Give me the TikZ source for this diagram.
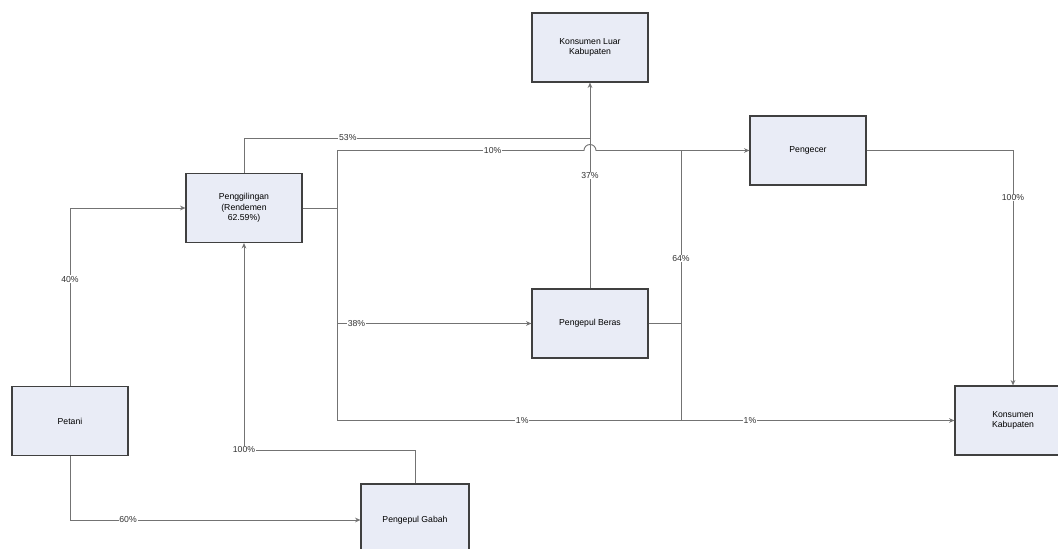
\documentclass[tikz,border=0pt]{standalone}
\usepackage{fontspec}
\setmainfont{Liberation Sans}
\usetikzlibrary{arrows.meta}
\definecolor{boxfill}{RGB}{233,236,246}
\begin{document}
\begin{tikzpicture}[x=0.75pt,y=-0.75pt,
  box/.style={draw=black!75,line width=0.9pt,fill=boxfill,minimum width=87pt,minimum height=51.75pt,inner sep=1pt,align=center,font=\fontsize{6.5}{8}\selectfont},
  conn/.style={draw=black!55,line width=0.7pt},
  arr/.style={conn,-{Stealth[length=4pt,width=3.5pt]}},
  lbl/.style={fill=white,inner sep=0.6pt,font=\fontsize{6.5}{8}\selectfont,text=black!80}]
\useasboundingbox (0,0) rectangle (1058,549);
% nodes
\node[box] (kl) at (590,47.5) {Konsumen Luar\\Kabupaten};
\node[box] (pg) at (244,208) {Penggilingan\\(Rendemen\\62.59\%)};
\node[box] (pt) at (70,421) {Petani};
\node[box,minimum width=81pt,minimum height=54pt] (ga) at (415,520) {Pengepul Gabah};
\node[box] (pb) at (590,323.5) {Pengepul Beras};
\node[box] (pc) at (808,150.5) {Pengecer};
\node[box] (kk) at (1013,420.5) {Konsumen\\Kabupaten};
% coordinates
\coordinate (ta) at (337,150.5);
\coordinate (tb) at (337,420.5);
\coordinate (tm) at (337,208);
\coordinate (ua) at (681,150.5);
\coordinate (ub) at (681,420.5);
\coordinate (um) at (681,323.5);
\coordinate (kj) at (590,138);
% Petani -> Penggilingan
\draw[arr] (pt.north) |- node[lbl,pos=0.3] {40\%} (pg.west);
% Petani -> Pengepul Gabah
\draw[arr] (pt.south) |- node[lbl,pos=0.6] {60\%} (ga.west);
% Pengepul Gabah -> Penggilingan
\draw[arr] (ga.north) -- (ga.north |- 0,450) -- node[lbl,pos=1] {100\%} (pg.south |- 0,450) -- (pg.south);
% Penggilingan trunk
\draw[conn] (pg.east) -- (tm);
\draw[conn] (ta) -- (tb);
% 53% to Konsumen Luar
\draw[arr] (pg.north) |- node[lbl,pos=0.65] {53\%} (kj) -- (kl.south);
% 10% to Pengecer with jump
\draw[arr] (ta) -- node[lbl,pos=0.63] {10\%} (584,150.5) arc[start angle=180,end angle=360,radius=6] -- (pc.west);
% 38% to Pengepul Beras
\draw[arr] (pb.west -| ta) -- node[lbl,pos=0.1] {38\%} (pb.west);
% 1% to Konsumen Kabupaten
\draw[arr] (tb) -- node[lbl,pos=0.3] {1\%} (kk.west);
% Pengepul Beras -> Konsumen Luar
\draw[conn] (pb.north) -- node[lbl,pos=0.75] {37\%} (kj);
% Pengepul Beras -> Pengecer / Konsumen Kabupaten
\draw[conn] (pb.east) -- (um);
\draw[conn] (ua) -- node[lbl,pos=0.4] {64\%} (ub);
\node[lbl] (l1b) at (750,420.5) {1\%};
% Pengecer -> Konsumen Kabupaten
\draw[arr] (pc.east) -| node[lbl,pos=0.6] {100\%} (kk.north);
\end{tikzpicture}
\end{document}
